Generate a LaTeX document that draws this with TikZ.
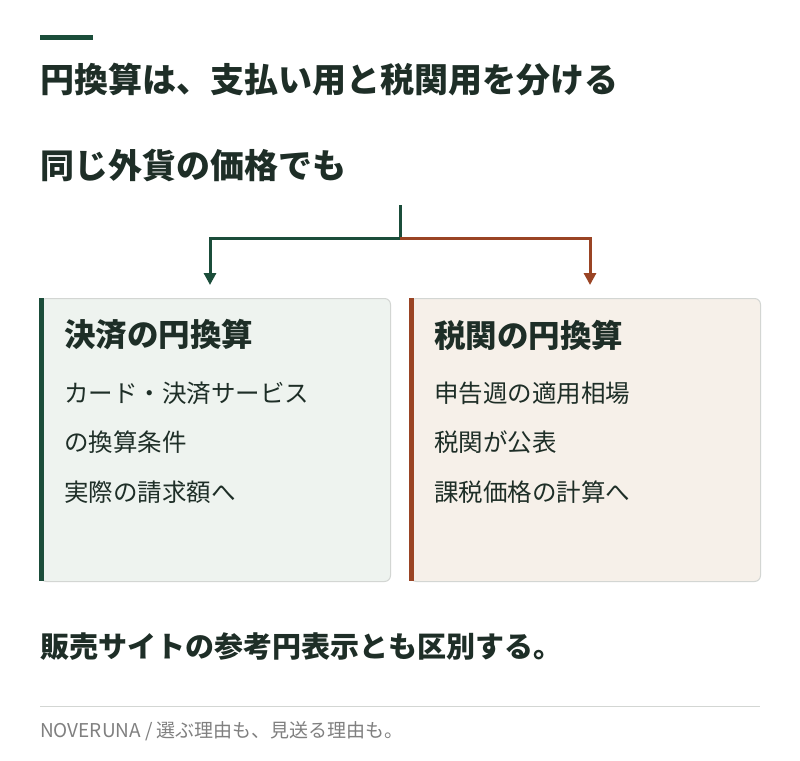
\documentclass[tikz,border=0pt]{standalone}
\usepackage{fontspec}
\setmainfont{Noto Sans CJK JP}
\usetikzlibrary{positioning,arrows.meta}
\definecolor{deepgreen}{HTML}{1B4D3A}
\definecolor{rust}{HTML}{9A4424}
\definecolor{inkgreen}{HTML}{1E2E27}
\definecolor{paleleaf}{HTML}{EEF3EF}
\definecolor{palesand}{HTML}{F6F0E9}
\definecolor{edgegray}{HTML}{D3D6D3}
\tikzset{
  heading/.style={anchor=west,inner sep=0pt,font=\bfseries\fontsize{34}{38}\selectfont,text=inkgreen},
  panel/.style={draw=edgegray,line width=1pt,rounded corners=6pt,minimum width=350pt,minimum height=283pt,anchor=north west,inner sep=0pt},
  paneltitle/.style={anchor=west,inner sep=0pt,font=\bfseries\fontsize{31.5}{35}\selectfont,text=inkgreen},
  panelline/.style={anchor=west,inner sep=0pt,font=\fontsize{24.5}{28}\selectfont,text=inkgreen},
  flow/.style={line width=3pt,-{Triangle[length=12pt,width=12pt]}}
}
\begin{document}
\begin{tikzpicture}[x=1pt,y=-1pt]
  \useasboundingbox[fill=white] (0,0) rectangle (800,760);
  \draw[deepgreen,line width=5pt] (40,38) -- (93,38);
  \node[heading] (title) at (40,80) {円換算は、支払い用と税関用を分ける};
  \node[heading] (lead) at (40,165) {同じ外貨の価格でも};
  % two panels
  \node[panel,fill=paleleaf] (pay) at (40,298) {};
  \node[panel,fill=palesand] (customs) at (410,298) {};
  \draw[deepgreen,line width=5pt] (pay.north west) ++(1.5,0) -- ++(0,283);
  \draw[rust,line width=5pt] (customs.north west) ++(1.5,0) -- ++(0,283);
  \node[paneltitle] (paytitle) at (64,335) {決済の円換算};
  \node[panelline] (pay1) at (64,393) {カード・決済サービス};
  \node[panelline] (pay2) at (64,442) {の換算条件};
  \node[panelline] (pay3) at (64,492) {実際の請求額へ};
  \node[paneltitle] (custtitle) at (434,335) {税関の円換算};
  \node[panelline] (cust1) at (434,393) {申告週の適用相場};
  \node[panelline] (cust2) at (434,442) {税関が公表};
  \node[panelline] (cust3) at (434,492) {課税価格の計算へ};
  % split connector
  \coordinate (root) at (400,205);
  \coordinate (split) at (400,238);
  \coordinate (payin) at (210,285);
  \coordinate (custin) at (590,285);
  \draw[deepgreen,line width=3pt] (root) -- (split);
  \draw[flow,deepgreen] (split) -| (payin);
  \draw[flow,rust] (split) -| (custin);
  \node[heading,font=\bfseries\fontsize{29}{33}\selectfont] (note) at (40,647) {販売サイトの参考円表示とも区別する。};
  \draw[edgegray,line width=0.8pt] (40,706) -- (760,706);
  \node[anchor=west,inner sep=0pt,font=\fontsize{19}{22}\selectfont,text=gray] (footer) at (40,731) {NOVERUNA / 選ぶ理由も、見送る理由も。};
\end{tikzpicture}
\end{document}
